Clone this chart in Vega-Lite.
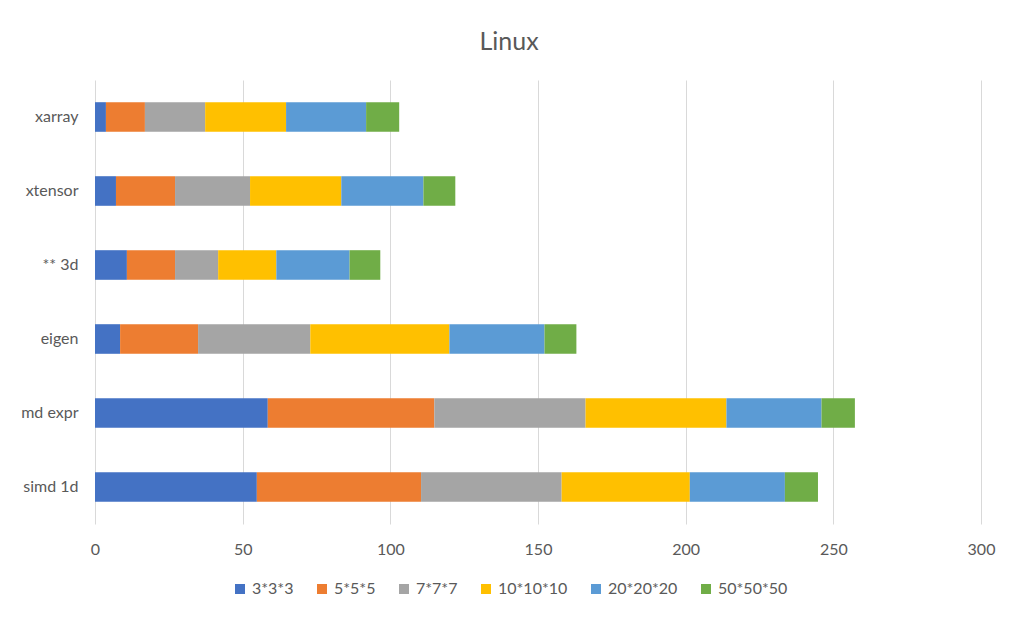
{
  "$schema": "https://vega.github.io/schema/vega-lite/v6.json",
  "width": 886,
  "height": 444,
  "autosize": "none",
  "padding": {"left": 95, "top": 80, "right": 38, "bottom": 98},
  "background": "white",
  "config": {
    "font": "Lato",
    "view": {"stroke": null}
  },
  "title": {
    "text": "Linux",
    "fontSize": 25,
    "fontWeight": "normal",
    "color": "#595959",
    "anchor": "middle",
    "dx": -29,
    "offset": 25
  },
  "data": {
    "values": [
      {"lib": "xarray", "size": "3*3*3", "k": 1, "v": 3.7},
      {"lib": "xarray", "size": "5*5*5", "k": 2, "v": 13.2},
      {"lib": "xarray", "size": "7*7*7", "k": 3, "v": 20.4},
      {"lib": "xarray", "size": "10*10*10", "k": 4, "v": 27.4},
      {"lib": "xarray", "size": "20*20*20", "k": 5, "v": 27.1},
      {"lib": "xarray", "size": "50*50*50", "k": 6, "v": 11.2},
      {"lib": "xtensor", "size": "3*3*3", "k": 1, "v": 7.1},
      {"lib": "xtensor", "size": "5*5*5", "k": 2, "v": 20.0},
      {"lib": "xtensor", "size": "7*7*7", "k": 3, "v": 25.4},
      {"lib": "xtensor", "size": "10*10*10", "k": 4, "v": 30.9},
      {"lib": "xtensor", "size": "20*20*20", "k": 5, "v": 27.8},
      {"lib": "xtensor", "size": "50*50*50", "k": 6, "v": 10.8},
      {"lib": "** 3d", "size": "3*3*3", "k": 1, "v": 10.8},
      {"lib": "** 3d", "size": "5*5*5", "k": 2, "v": 16.3},
      {"lib": "** 3d", "size": "7*7*7", "k": 3, "v": 14.6},
      {"lib": "** 3d", "size": "10*10*10", "k": 4, "v": 19.7},
      {"lib": "** 3d", "size": "20*20*20", "k": 5, "v": 24.8},
      {"lib": "** 3d", "size": "50*50*50", "k": 6, "v": 10.4},
      {"lib": "eigen", "size": "3*3*3", "k": 1, "v": 8.5},
      {"lib": "eigen", "size": "5*5*5", "k": 2, "v": 26.4},
      {"lib": "eigen", "size": "7*7*7", "k": 3, "v": 38.0},
      {"lib": "eigen", "size": "10*10*10", "k": 4, "v": 47.1},
      {"lib": "eigen", "size": "20*20*20", "k": 5, "v": 32.2},
      {"lib": "eigen", "size": "50*50*50", "k": 6, "v": 10.8},
      {"lib": "md expr", "size": "3*3*3", "k": 1, "v": 58.5},
      {"lib": "md expr", "size": "5*5*5", "k": 2, "v": 56.4},
      {"lib": "md expr", "size": "7*7*7", "k": 3, "v": 51.2},
      {"lib": "md expr", "size": "10*10*10", "k": 4, "v": 47.7},
      {"lib": "md expr", "size": "20*20*20", "k": 5, "v": 32.2},
      {"lib": "md expr", "size": "50*50*50", "k": 6, "v": 11.3},
      {"lib": "simd 1d", "size": "3*3*3", "k": 1, "v": 54.8},
      {"lib": "simd 1d", "size": "5*5*5", "k": 2, "v": 55.6},
      {"lib": "simd 1d", "size": "7*7*7", "k": 3, "v": 47.6},
      {"lib": "simd 1d", "size": "10*10*10", "k": 4, "v": 43.4},
      {"lib": "simd 1d", "size": "20*20*20", "k": 5, "v": 32.2},
      {"lib": "simd 1d", "size": "50*50*50", "k": 6, "v": 11.2}
    ]
  },
  "mark": {"type": "bar"},
  "encoding": {
    "y": {
      "field": "lib",
      "type": "nominal",
      "sort": ["xarray", "xtensor", "** 3d", "eigen", "md expr", "simd 1d"],
      "scale": {"paddingInner": 0.6, "paddingOuter": 0.3},
      "axis": {
        "title": null,
        "domain": false,
        "ticks": false,
        "grid": false,
        "labelPadding": 17,
        "labelFontSize": 16,
        "labelColor": "#595959"
      }
    },
    "x": {
      "field": "v",
      "type": "quantitative",
      "stack": "zero",
      "scale": {"domain": [0, 300], "nice": false},
      "axis": {
        "title": null,
        "values": [0, 50, 100, 150, 200, 250, 300],
        "domain": false,
        "ticks": false,
        "grid": true,
        "gridColor": "#d9d9d9",
        "gridWidth": 1,
        "labelFlush": false,
        "labelPadding": 17,
        "labelFontSize": 16,
        "labelColor": "#595959"
      }
    },
    "color": {
      "field": "size",
      "type": "nominal",
      "sort": ["3*3*3", "5*5*5", "7*7*7", "10*10*10", "20*20*20", "50*50*50"],
      "scale": {
        "domain": ["3*3*3", "5*5*5", "7*7*7", "10*10*10", "20*20*20", "50*50*50"],
        "range": ["#4472C4", "#ED7D31", "#A5A5A5", "#FFC000", "#5B9BD5", "#70AD47"]
      },
      "legend": {
        "title": null,
        "orient": "none",
        "direction": "horizontal",
        "legendX": 137,
        "legendY": 501,
        "symbolType": "square",
        "symbolSize": 100,
        "symbolStrokeWidth": 0,
        "symbolOpacity": 1,
        "labelFontSize": 16,
        "labelColor": "#595959",
        "labelOffset": 4,
        "columnPadding": 20
      }
    },
    "order": {"field": "k", "type": "quantitative"}
  }
}
